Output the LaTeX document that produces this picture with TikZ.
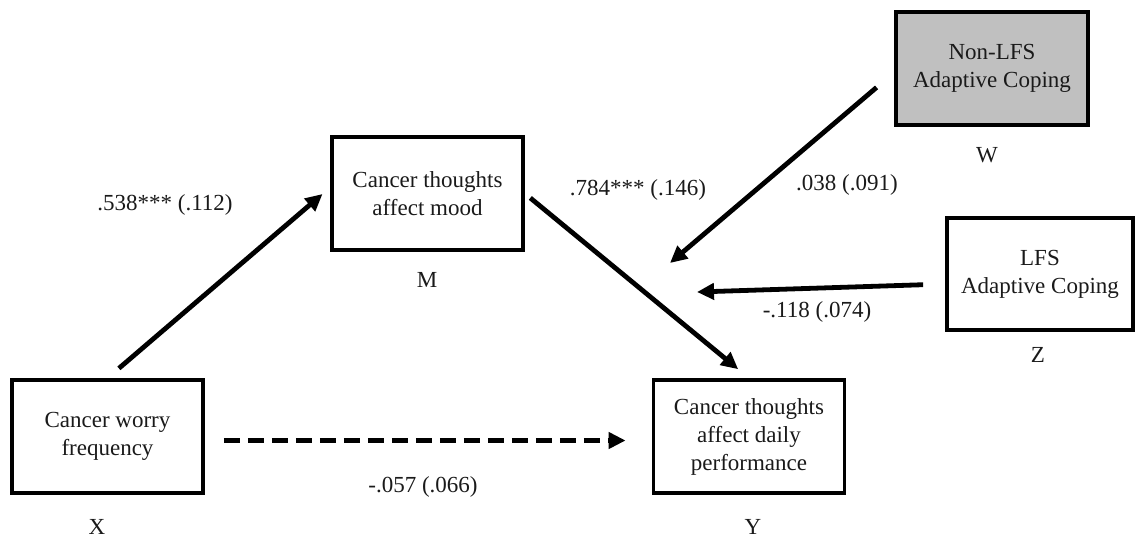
\documentclass[tikz,border=0pt]{standalone}
\usepackage{fontspec}
\setmainfont{Liberation Serif}
\usetikzlibrary{arrows.meta}
\definecolor{boxgray}{HTML}{C0C0C0}
\definecolor{ink}{HTML}{1A1A1A}
\tikzset{
  varbox/.style={draw=black, line width=3.8pt, minimum width=191pt, minimum height=113pt,
    align=center, inner sep=4pt, text=ink,
    font=\fontsize{23}{28}\selectfont},
  tag/.style={text=ink, font=\fontsize{23}{28}\selectfont, inner sep=1pt},
  path/.style={line width=4.8pt, -{Triangle[length=17pt,width=16pt]}},
  dashpath/.style={path, line width=5.6pt, dash pattern=on 16pt off 8pt}
}
\begin{document}
\begin{tikzpicture}[x=1pt,y=-1pt]
\useasboundingbox (0,0) rectangle (1135,539);

% variables
\node[varbox] (X) at (107.5,436.5) {Cancer worry\\frequency};
\node[varbox] (M) at (427.5,193.5) {Cancer thoughts\\affect mood};
\node[varbox] (Y) at (749,436.5) {Cancer thoughts\\affect daily\\performance};
\node[varbox, fill=boxgray, minimum width=192pt] (W) at (992,68.5) {Non-LFS\\Adaptive Coping};
\node[varbox, minimum width=186pt, minimum height=112pt] (Z) at (1040,274) {LFS\\Adaptive Coping};

% letters under the boxes
\node[tag] (lx) at (97,527) {X};
\node[tag] (lm) at (427,280) {M};
\node[tag] (ly) at (753,527) {Y};
\node[tag] (lw) at (987,155) {W};
\node[tag] (lz) at (1038,355) {Z};

% points where the moderators meet the b path
\coordinate (wt) at (670,263);
\coordinate (zt) at (697,292);

% paths
\draw[path, shorten <=15pt, shorten >=10pt] (X.north) -- ([yshift=6pt]M.west);
\draw[path, shorten <=7pt, shorten >=14pt] (M.east) -- (Y.north);
\draw[dashpath, shorten <=19pt, shorten >=26pt] ([yshift=-4pt]X.east) -- ([yshift=-4pt]Y.west);
\draw[path, shorten <=23pt] ([yshift=-4pt]W.west) -- (wt);
\draw[path, shorten <=22pt] ([yshift=-10pt]Z.west) -- (zt);

% coefficients
\node[tag] (ca) at (165,205) {.538*** (.112)};
\node[tag] (cb) at (638,190) {.784*** (.146)};
\node[tag] (cw) at (847,185) {.038 (.091)};
\node[tag] (cz) at (817,312) {-.118 (.074)};
\node[tag] (cc) at (423,487) {-.057 (.066)};
\end{tikzpicture}
\end{document}
